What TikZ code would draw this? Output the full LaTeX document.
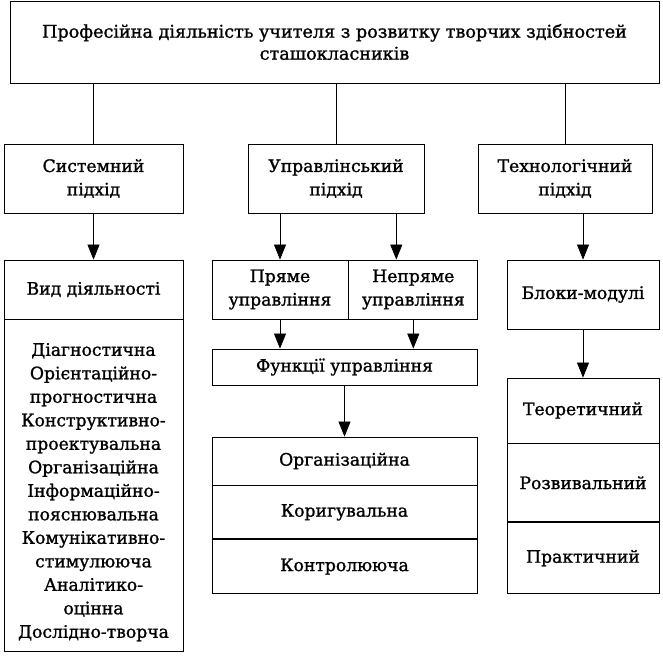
\documentclass[tikz,border=0pt]{standalone}
\usepackage{fontspec}
\setmainfont{DejaVu Serif}[BoldFont={DejaVu Serif}, BoldFeatures={FakeBold=1.2}]
\usetikzlibrary{positioning}
\usetikzlibrary{arrows.meta}

\begin{document}
\begin{tikzpicture}[x=1pt, y=-1pt, > = {Triangle[length=15pt,width=12pt]},
	box/.style={draw, line width=0.8pt, align=center, inner sep=0pt,
		font=\fontsize{17.2}{23.5}\selectfont\bfseries},
	arr/.style={->, line width=0.7pt}]
	\useasboundingbox (0,0) rectangle (663,657);

	\node[box, minimum width=649pt, minimum height=82pt,
		font=\fontsize{17.6}{22}\selectfont\bfseries] (top) at (334.5,42)
		{Професійна діяльність учителя з розвитку творчих здібностей\\ сташокласників};

	% approaches
	\node[box, minimum width=179pt, minimum height=69pt] (sys) at (93.5,178.5) {Системний\\ підхід};
	\node[box, minimum width=176pt, minimum height=69pt] (upr) at (336,178.5) {Управлінський\\ підхід};
	\node[box, minimum width=174pt, minimum height=69pt] (tech) at (565,178.5) {Технологічний\\ підхід};

	\draw[line width=0.7pt] (sys.north |- top.south) -- (sys);
	\draw[line width=0.7pt] (upr.north |- top.south) -- (upr);
	\draw[line width=0.7pt] (tech.north |- top.south) -- (tech);

	% left column
	\node[box, minimum width=179pt, minimum height=59pt] (vyd) at (93.5,289.5) {Вид діяльності};
	\node[box, minimum width=179pt, minimum height=332pt, below=0pt of vyd] (kinds)
		{\mbox{}\\[2pt] Діагностична\\ Орієнтаційно-\\ прогностична\\ Конструктивно-\\ проектувальна\\
		 Організаційна\\ Інформаційно-\\ пояснювальна\\ Комунікативно-\\ стимулююча\\
		 Аналітико-\\ оцінна\\ Дослідно-творча};

	% middle column
	\node[box, minimum width=136pt, minimum height=59pt] (direct) at (280,289.5) {Пряме\\ управління};
	\node[box, minimum width=129pt, minimum height=59pt, right=0pt of direct] (indirect) {Непряме\\ управління};
	\node[box, minimum width=265pt, minimum height=36pt] (func) at (344.5,367) {Функції управління};
	\node[box, minimum width=265pt, minimum height=48pt] (org) at (344.5,461) {Організаційна};
	\node[box, minimum width=265pt, minimum height=53pt, below=0pt of org] (corr) {Коригувальна};
	\node[box, minimum width=265pt, minimum height=54pt, below=0pt of corr] (ctrl) {Контролююча};

	% right column
	\node[box, minimum width=152pt, minimum height=69pt] (blocks) at (583,294.5) {Блоки-модулі};
	\node[box, minimum width=152pt, minimum height=65pt] (theor) at (583,410.5) {Теоретичний};
	\node[box, minimum width=152pt, minimum height=78pt, below=0pt of theor] (devel) {Розвивальний};
	\node[box, minimum width=152pt, minimum height=71pt, below=0pt of devel] (pract) {Практичний};

	\draw[arr] (sys) -- (vyd);
	\draw[arr] (upr.south -| direct) -- (direct);
	\draw[arr] ([xshift=-17pt]indirect.north |- upr.south) -- ([xshift=-17pt]indirect.north);
	\draw[arr] (direct) -- (direct |- func.north);
	\draw[arr] (indirect) -- (indirect |- func.north);
	\draw[arr] (func) -- (org);
	\draw[arr] (blocks.north |- tech.south) -- (blocks);
	\draw[arr] (blocks) -- (theor);
\end{tikzpicture}
\end{document}
